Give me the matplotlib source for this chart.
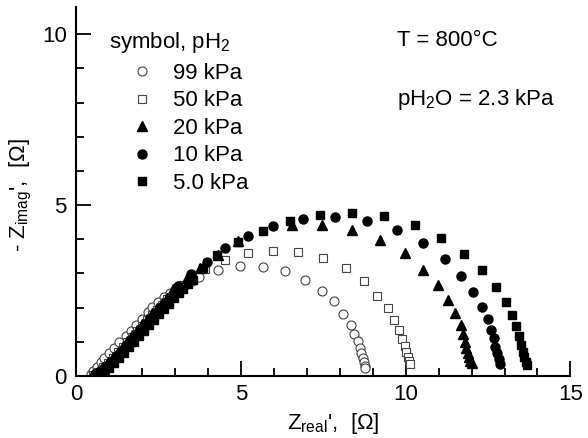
# Nyquist plot of impedance spectra at 800 C for several pH2 values

import matplotlib.pyplot as plt
from matplotlib.ticker import MultipleLocator

plt.rcParams['font.family'] = ['Liberation Sans', 'DejaVu Sans']
plt.rcParams['mathtext.fontset'] = 'custom'
plt.rcParams['mathtext.rm'] = 'Liberation Sans'

# 99 kPa (open circles)
z99_re = [0.44, 0.49, 0.62, 0.75, 0.85, 1.00, 1.15, 1.30, 1.50, 1.65, 1.81, 2.00, 2.16, 2.30, 2.47,
          2.65, 2.85, 3.05, 3.28, 3.50, 3.73, 4.31, 4.97, 5.66, 6.32, 6.94, 7.45, 7.83, 8.11, 8.33,
          8.44, 8.54, 8.60, 8.65, 8.69, 8.72, 8.75, 8.76]
z99_im = [0.06, 0.16, 0.27, 0.40, 0.52, 0.67, 0.82, 0.98, 1.17, 1.32, 1.48, 1.68, 1.87, 2.01, 2.16,
          2.31, 2.44, 2.54, 2.62, 2.78, 2.89, 3.09, 3.21, 3.19, 3.06, 2.81, 2.50, 2.18, 1.81, 1.50,
          1.23, 1.01, 0.83, 0.67, 0.52, 0.40, 0.30, 0.24]

# 50 kPa (open squares)
z50_re = [0.50, 0.65, 0.80, 0.95, 1.10, 1.25, 1.40, 1.55, 1.70, 1.85, 2.00, 2.15, 2.30, 2.45, 2.60,
          2.75, 2.95, 3.20, 3.50, 3.91, 4.51, 5.20, 5.98, 6.74, 7.50, 8.18, 8.72, 9.12, 9.45, 9.65,
          9.80, 9.90, 9.98, 10.02, 10.07, 10.10, 10.13]
z50_im = [0.04, 0.13, 0.25, 0.38, 0.53, 0.69, 0.85, 1.00, 1.15, 1.31, 1.47, 1.63, 1.79, 1.94, 2.09,
          2.24, 2.43, 2.66, 2.90, 3.14, 3.40, 3.60, 3.67, 3.64, 3.44, 3.15, 2.77, 2.35, 1.98, 1.64,
          1.35, 1.09, 0.89, 0.71, 0.57, 0.44, 0.35]

# 20 kPa (filled triangles)
z20_re = [0.50, 0.65, 0.80, 0.95, 1.10, 1.25, 1.40, 1.55, 1.70, 1.85, 2.00, 2.15, 2.30, 2.45, 2.60,
          2.75, 2.94, 3.35, 3.75, 4.31, 4.92, 6.54, 7.45, 8.38, 9.22, 9.98, 10.51, 10.97, 11.27,
          11.50, 11.68, 11.74, 11.79, 11.84, 11.88, 11.92, 11.96, 12.00]
z20_im = [0.05, 0.14, 0.26, 0.40, 0.55, 0.71, 0.87, 1.03, 1.19, 1.35, 1.51, 1.67, 1.83, 1.99, 2.14,
          2.29, 2.54, 2.87, 3.16, 3.55, 3.94, 4.43, 4.43, 4.26, 3.99, 3.60, 3.09, 2.67, 2.23,
          1.84, 1.50, 1.23, 0.98, 0.81, 0.67, 0.55, 0.44, 0.37]

# 10 kPa (filled circles)
z10_re = [0.55, 0.70, 0.85, 1.00, 1.15, 1.30, 1.45, 1.60, 1.75, 1.90, 2.05, 2.20, 2.35, 2.50, 2.65,
          2.80, 3.09, 3.48, 3.96, 4.51, 5.22, 5.98, 6.89, 7.86, 8.82, 9.73, 10.52, 11.18, 11.68,
          12.04, 12.32, 12.50, 12.60, 12.67, 12.72, 12.77, 12.82, 12.87]
z10_im = [0.05, 0.12, 0.22, 0.34, 0.48, 0.64, 0.80, 0.96, 1.12, 1.28, 1.44, 1.60, 1.76, 1.92, 2.08,
          2.24, 2.62, 2.98, 3.35, 3.74, 4.11, 4.40, 4.60, 4.65, 4.55, 4.28, 3.89, 3.42, 2.93,
          2.46, 2.03, 1.67, 1.35, 1.11, 0.86, 0.67, 0.49, 0.35]

# 5.0 kPa (filled squares)
z5_re = [0.55, 0.70, 0.85, 1.00, 1.15, 1.30, 1.45, 1.60, 1.75, 1.90, 2.05, 2.20, 2.35, 2.50, 2.65,
         2.80, 2.95, 3.10, 3.25, 3.40, 3.55, 3.85, 4.26, 4.92, 5.66, 6.49, 7.40, 8.36, 9.33, 10.29,
         11.07, 11.76, 12.33, 12.74, 13.05, 13.23, 13.36, 13.45, 13.51, 13.56, 13.60, 13.64, 13.68]
z5_im = [0.03, 0.08, 0.14, 0.24, 0.38, 0.52, 0.68, 0.84, 1.00, 1.16, 1.32, 1.48, 1.64, 1.80, 1.96,
         2.12, 2.27, 2.42, 2.56, 2.69, 2.82, 3.16, 3.55, 3.91, 4.23, 4.53, 4.72, 4.77, 4.67, 4.43,
         4.04, 3.57, 3.09, 2.60, 2.16, 1.79, 1.47, 1.17, 0.91, 0.71, 0.55, 0.42, 0.32]

fs = 16
fig = plt.figure(figsize=(5.88, 4.38), dpi=100)
ax = fig.add_axes([0.13, 0.1416, 0.84, 0.8425])

edge = '#444444'
ax.plot(z99_re, z99_im, 'o', ms=6.5, mfc='white', mec=edge, mew=0.8, ls='none', label='99 kPa')
ax.plot(z50_re, z50_im, 's', ms=6, mfc='white', mec=edge, mew=0.8, ls='none', label='50 kPa')
ax.plot(z20_re, z20_im, '^', ms=7, color='black', ls='none', label='20 kPa')
ax.plot(z10_re, z10_im, 'o', ms=6.5, color='black', ls='none', label='10 kPa')
ax.plot(z5_re, z5_im, 's', ms=5.5, color='black', ls='none', label='5.0 kPa')

ax.set_xlim(0, 15)
ax.set_ylim(0, 10.8)
ax.xaxis.set_major_locator(MultipleLocator(5))
ax.xaxis.set_minor_locator(MultipleLocator(1))
ax.yaxis.set_major_locator(MultipleLocator(5))
ax.yaxis.set_minor_locator(MultipleLocator(1))
ax.tick_params(which='major', direction='in', length=11, width=1.3, labelsize=fs, pad=6)
ax.tick_params(which='minor', direction='in', length=6, width=1.3)
ax.tick_params(axis='y', pad=7)
for s in ['top', 'right']:
    ax.spines[s].set_visible(False)
for s in ['left', 'bottom']:
    ax.spines[s].set_linewidth(1.5)

ax.set_xlabel("Z$_{\\mathregular{real}}$',  [Ω]", fontsize=fs)
ax.set_ylabel("- Z$_{\\mathregular{imag}}$',  [Ω]", fontsize=fs)
ax.xaxis.set_label_coords(0.52, -0.095)
ax.yaxis.set_label_coords(-0.085, 0.49)

leg = ax.legend(loc='upper left', bbox_to_anchor=(0.11, 0.848), frameon=False, fontsize=fs,
                handlelength=1.0, handletextpad=0.9, labelspacing=0.29, borderpad=0,
                borderaxespad=0)

ax.text(0.066, 0.905, 'symbol, pH$_\\mathregular{2}$', transform=ax.transAxes, fontsize=fs, va='center')
ax.text(0.649, 0.91, 'T = 800°C', transform=ax.transAxes, fontsize=fs, va='center')
ax.text(0.649, 0.748, 'pH$_\\mathregular{2}$O = 2.3 kPa', transform=ax.transAxes, fontsize=fs, va='center')

fig.savefig('out.png', dpi=100)
